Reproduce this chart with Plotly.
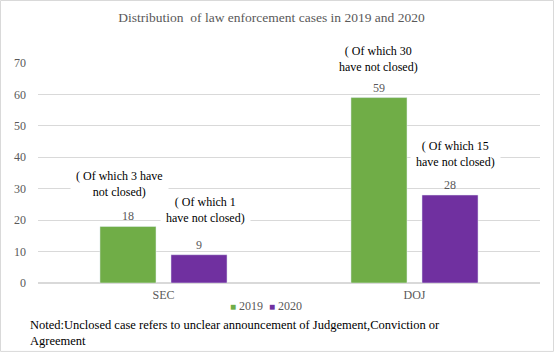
import plotly.graph_objects as go

categories = ["SEC", "DOJ"]
series_names = ["2019", "2020"]
values_2019 = [18, 59]
values_2020 = [9, 28]
notes_2019 = ["( Of which 3 have<br>not closed)", "( Of which 30<br>have not closed)"]
notes_2020 = ["( Of which 1<br>have not closed)", "( Of which 15<br>have not closed)"]
yticks = [0, 10, 20, 30, 40, 50, 60, 70]

FONT = "Liberation Serif, Times New Roman, serif"
GRAY = "#595959"
GREEN = "#70ad47"
PURPLE = "#7030a0"

fig = go.Figure()
fig.add_trace(go.Bar(name=series_names[0], x=categories, y=values_2019, marker_color=GREEN,
                     text=values_2019, textposition="outside", cliponaxis=False,
                     textfont=dict(family=FONT, size=12, color=GRAY)))
fig.add_trace(go.Bar(name=series_names[1], x=categories, y=values_2020, marker_color=PURPLE,
                     text=values_2020, textposition="outside", cliponaxis=False,
                     textfont=dict(family=FONT, size=12, color=GRAY)))

shifts_2019 = [(-44, 42), (-36, 39)]
shifts_2020 = [(42, 45), (41, 41)]
for i, cat in enumerate(categories):
    fig.add_annotation(x=cat, y=values_2019[i], xref="x", yref="y", text=notes_2019[i],
                       showarrow=False, xshift=shifts_2019[i][0], yshift=shifts_2019[i][1],
                       yanchor="middle", bgcolor="white", borderpad=5,
                       font=dict(family=FONT, size=12, color="black"))
    fig.add_annotation(x=cat, y=values_2020[i], xref="x", yref="y", text=notes_2020[i],
                       showarrow=False, xshift=shifts_2020[i][0], yshift=shifts_2020[i][1],
                       yanchor="middle", bgcolor="white", borderpad=5,
                       font=dict(family=FONT, size=12, color="black"))

# legend drawn as text with small coloured squares
legend_text = (f"<span style='color:{GREEN};font-size:10px'>■</span> {series_names[0]}  "
               f"<span style='color:{PURPLE};font-size:10px'>■</span> {series_names[1]}")
fig.add_annotation(x=(266 - 38) / 502, y=(283 - 306) / 220, xref="paper", yref="paper",
                   xanchor="center", yanchor="middle", showarrow=False, text=legend_text,
                   font=dict(family=FONT, size=12, color=GRAY))

fig.add_annotation(x=-0.02, y=-0.227, xref="paper", yref="paper", xanchor="left", yanchor="middle",
                   align="left", showarrow=False,
                   text="Noted:Unclosed case refers to unclear announcement of Judgement,Conviction or<br>Agreement",
                   font=dict(family=FONT, size=12.5, color="black"))

fig.add_shape(type="rect", xref="paper", yref="paper", x0=-0.0747, x1=1.0269, y0=-0.311, y1=1.284,
              line=dict(color="#d9d9d9", width=1), fillcolor="rgba(0,0,0,0)", layer="below")

fig.update_layout(
    width=554, height=352,
    margin=dict(l=38, r=14, t=63, b=69, autoexpand=False),
    paper_bgcolor="white", plot_bgcolor="white",
    barmode="group", bargap=0.434, bargroupgap=0.211,
    showlegend=False,
    title=dict(text="Distribution  of law enforcement cases in 2019 and 2020",
               x=271.5 / 554, xref="container", xanchor="center", y=1 - 17 / 352, yref="container",
               yanchor="middle", font=dict(family=FONT, size=13.5, color=GRAY)),
    font=dict(family=FONT, size=12, color=GRAY),
)
fig.update_yaxes(range=[0, 70], tickvals=yticks, showgrid=True, gridcolor="#d9d9d9", gridwidth=1,
                 zeroline=True, zerolinecolor="#d9d9d9", showline=False, ticks="",
                 ticklabelstandoff=11, tickfont=dict(family=FONT, size=12, color=GRAY))
fig.update_xaxes(showline=False, ticks="", ticklabelstandoff=3,
                 tickfont=dict(family=FONT, size=12, color=GRAY))

fig.write_html("out.html")
